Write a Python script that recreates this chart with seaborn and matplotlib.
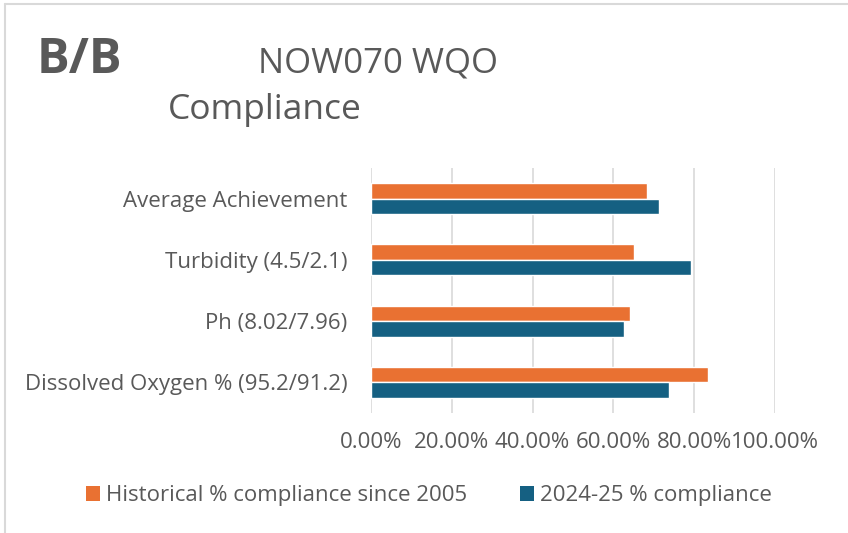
import matplotlib
matplotlib.use("Agg")
import matplotlib.pyplot as plt
import seaborn as sns
import pandas as pd
from matplotlib.patches import Patch
from matplotlib.lines import Line2D
from matplotlib.ticker import FuncFormatter

categories = ["Average Achievement", "Turbidity (4.5/2.1)", "Ph (8.02/7.96)",
              "Dissolved Oxygen % (95.2/91.2)"]
series_names = ["Historical % compliance since 2005", "2024-25 % compliance"]
historical = [0.684, 0.651, 0.642, 0.834]
current = [0.714, 0.792, 0.625, 0.738]
colors = ["#E97132", "#156082"]
x_ticks = [0.0, 0.2, 0.4, 0.6, 0.8, 1.0]

df = pd.DataFrame({
    "category": categories * 2,
    "series": [series_names[0]] * 4 + [series_names[1]] * 4,
    "value": historical + current,
})

sns.set_theme(style="white")
plt.rcParams["font.family"] = ["Open Sans", "DejaVu Sans"]
text_color = "#595959"

fig = plt.figure(figsize=(8.48, 5.33), dpi=100)
ax = fig.add_axes([371 / 848, 1 - 413 / 533, 404 / 848, 245 / 533])

sns.barplot(data=df, y="category", x="value", hue="series", order=categories,
            hue_order=series_names, palette=colors, orient="h", width=0.51,
            ax=ax, legend=False, saturation=1)

ax.set_xlim(0, 1.0)
ax.set_xticks(x_ticks)
ax.xaxis.set_major_formatter(FuncFormatter(lambda v, p: f"{v * 100:.2f}%"))
ax.grid(axis="x", color="#d9d9d9", linewidth=1.2)
ax.set_axisbelow(True)
for s in ax.spines.values():
    s.set_visible(False)
ax.set_xlabel("")
ax.set_ylabel("")
ax.tick_params(axis="both", length=0, colors=text_color, labelsize=16)
ax.tick_params(axis="x", pad=14)
ax.tick_params(axis="y", pad=17)

fig.text(37 / 848, 1 - 73 / 533, "B/B", fontsize=35, fontweight="bold",
         color=text_color, ha="left", va="baseline")
fig.text(258 / 848, 1 - 73 / 533, "NOW070 WQO", fontsize=25,
         color=text_color, ha="left", va="baseline")
fig.text(168 / 848, 1 - 119 / 533, "Compliance", fontsize=25.5,
         color=text_color, ha="left", va="baseline")

handles = [Patch(facecolor=c, edgecolor="none") for c in colors]
fig.legend(handles, series_names, loc="center", bbox_to_anchor=(429 / 848, 1 - 496 / 533),
           ncol=2, frameon=False, fontsize=16, labelcolor=text_color,
           handlelength=0.63, handleheight=0.63, handletextpad=0.3,
           columnspacing=2.35, borderpad=0, borderaxespad=0)

fig.add_artist(Line2D([5 / 848, 5 / 848], [0, 1 - 4 / 533], color="#d9d9d9",
                      linewidth=1.5, transform=fig.transFigure))
fig.add_artist(Line2D([5 / 848, 1], [1 - 4 / 533, 1 - 4 / 533], color="#d9d9d9",
                      linewidth=1.5, transform=fig.transFigure))

fig.savefig("out.png", dpi=100)
